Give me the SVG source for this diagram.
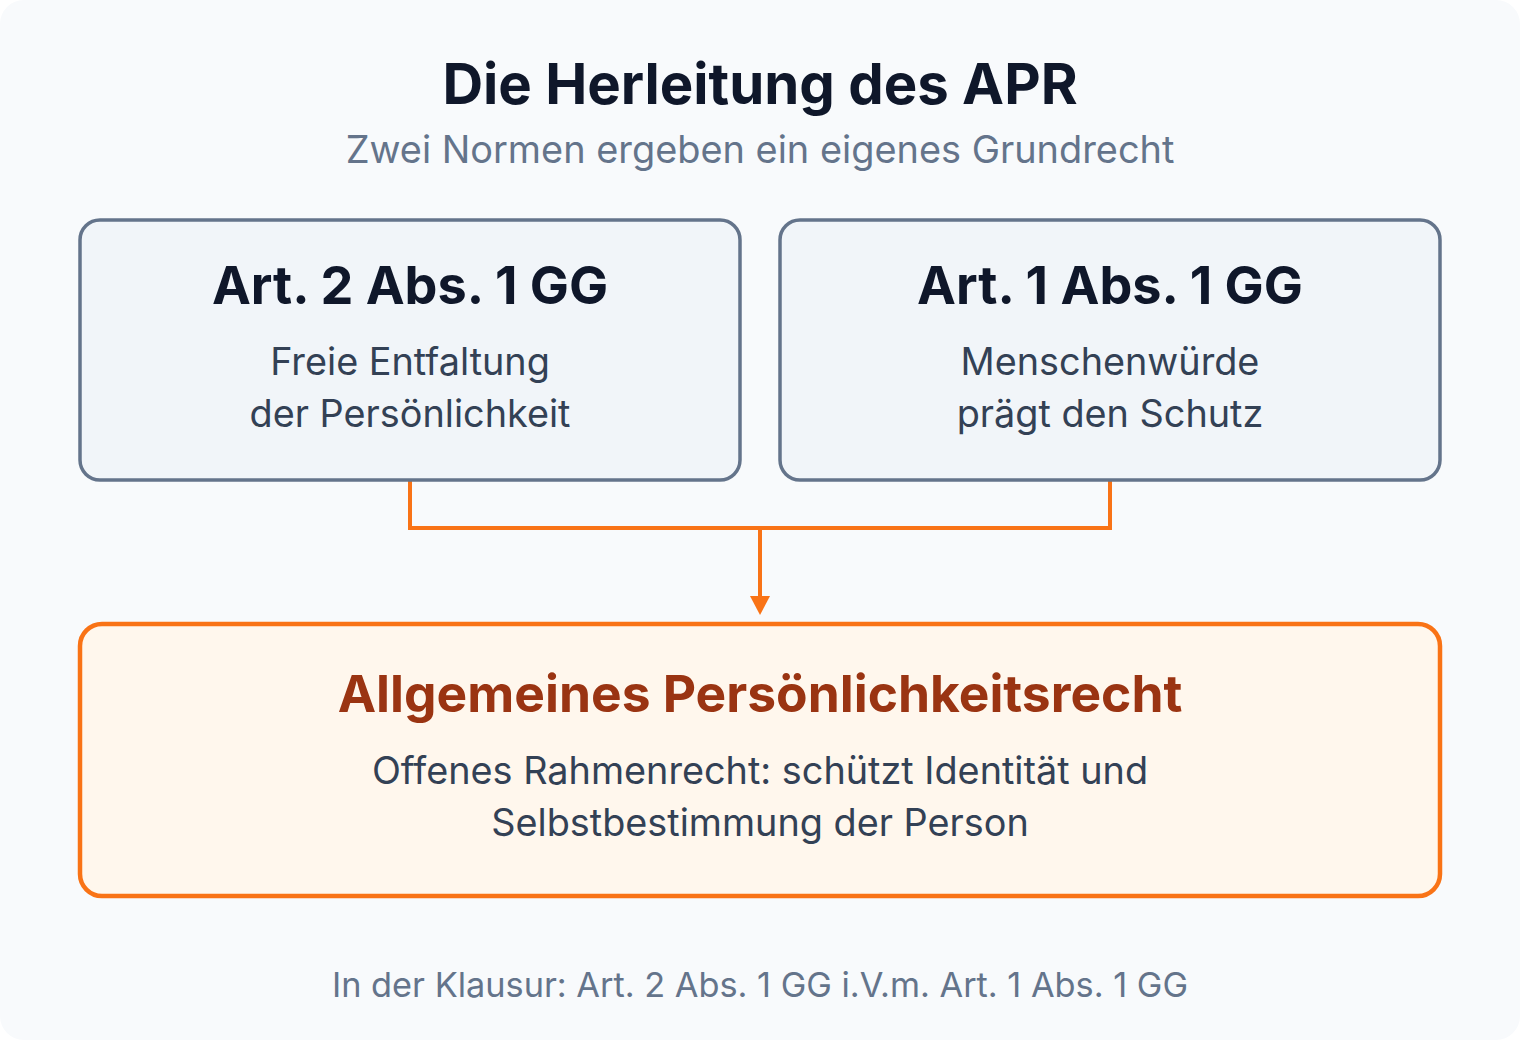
<svg xmlns="http://www.w3.org/2000/svg" width="1520" height="1040" viewBox="0 0 1520 1040">
<style>
text{font-family:Inter,"Noto Sans","Liberation Sans",sans-serif;text-anchor:middle}
.title{font-size:56.3px;font-weight:700;fill:#0f172a}
.sub{font-size:37.9px;fill:#64748b}
.nbox{fill:#f1f5f9;stroke:#64748b;stroke-width:3.5}
.nh{font-size:52.2px;font-weight:700;fill:#0f172a}
.nb{font-size:37.8px;fill:#334155}
.rbox{fill:#fff7ed;stroke:#f97316;stroke-width:4.5}
.rh{font-size:51.5px;font-weight:700;fill:#9a3412}
.foot{font-size:34.3px;fill:#64748b}
.conn{fill:none;stroke:#f97316;stroke-width:4}
</style>
<rect x="0" y="0" width="1520" height="1040" fill="#ffffff"/>
<rect x="0" y="0" width="1520" height="1040" rx="24" fill="#f8fafc"/>
<g id="header">
<text class="title" x="760" y="104">Die Herleitung des APR</text>
<text class="sub" x="760" y="163">Zwei Normen ergeben ein eigenes Grundrecht</text>
</g>
<g id="connectors">
<path class="conn" d="M410,480 V528 H1110 V480"/>
<path class="conn" d="M760,528 V597"/>
<path d="M750,596 L770,596 L760,615 z" fill="#f97316"/>
</g>
<g id="node-art2">
<rect class="nbox" x="80" y="220" width="660" height="260" rx="20"/>
<text class="nh" x="410" y="304">Art. 2 Abs. 1 GG</text>
<text class="nb" x="410" y="375">Freie Entfaltung</text>
<text class="nb" x="410" y="427">der Persönlichkeit</text>
</g>
<g id="node-art1">
<rect class="nbox" x="780" y="220" width="660" height="260" rx="20"/>
<text class="nh" x="1110" y="304">Art. 1 Abs. 1 GG</text>
<text class="nb" x="1110" y="375">Menschenwürde</text>
<text class="nb" x="1110" y="427">prägt den Schutz</text>
</g>
<g id="node-apr">
<rect class="rbox" x="80" y="624" width="1360" height="272" rx="22"/>
<text class="rh" x="760" y="712">Allgemeines Persönlichkeitsrecht</text>
<text class="nb" x="760" y="784">Offenes Rahmenrecht: schützt Identität und</text>
<text class="nb" x="760" y="836">Selbstbestimmung der Person</text>
</g>
<g id="footer">
<text class="foot" x="760" y="997">In der Klausur: Art. 2 Abs. 1 GG i.V.m. Art. 1 Abs. 1 GG</text>
</g>
</svg>
